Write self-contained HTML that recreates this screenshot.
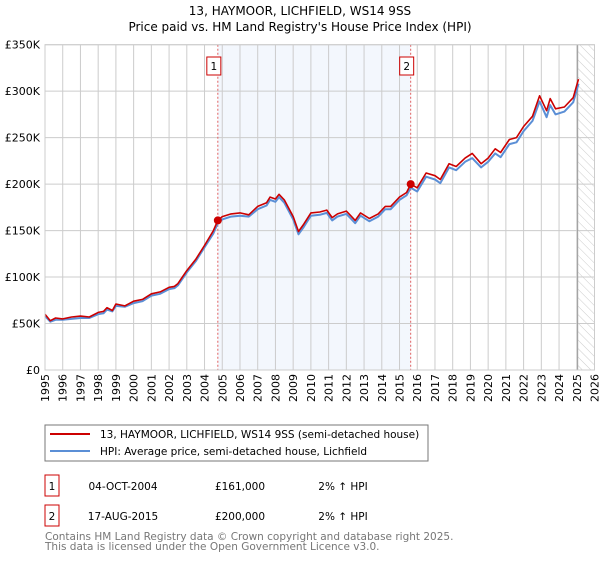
<!DOCTYPE html>
<html><head><meta charset="utf-8"><style>
body{margin:0;background:#fff;font-family:"DejaVu Sans","Liberation Sans",sans-serif;}
svg text{font-family:"DejaVu Sans","Liberation Sans",sans-serif;}
</style></head><body>
<svg id="c" width="600" height="560" xmlns="http://www.w3.org/2000/svg">
<defs><pattern id="hatch" width="6" height="6" patternUnits="userSpaceOnUse" patternTransform="rotate(-45)"><line x1="0" y1="0" x2="0" y2="6" stroke="#ccc" stroke-width="1"/></pattern></defs>
<text x="300" y="15" text-anchor="middle" font-size="12">13, HAYMOOR, LICHFIELD, WS14 9SS</text>
<text x="300" y="31" text-anchor="middle" font-size="12">Price paid vs. HM Land Registry's House Price Index (HPI)</text>
<g id="plot"></g>
<rect x="45" y="425" width="383" height="36" fill="#fff" stroke="#777"/>
<line x1="50" y1="434" x2="90" y2="434" stroke="#cc0000" stroke-width="2"/>
<text x="100" y="438" font-size="10.5">13, HAYMOOR, LICHFIELD, WS14 9SS (semi-detached house)</text>
<line x1="50" y1="451" x2="90" y2="451" stroke="#5b8fd6" stroke-width="2"/>
<text x="100" y="455" font-size="10.5">HPI: Average price, semi-detached house, Lichfield</text>
<rect x="45" y="475" width="14" height="21" fill="#fff" stroke="#cc0000"/>
<text x="52" y="490" font-size="10.5" text-anchor="middle">1</text>
<text x="123" y="490" font-size="10.5" text-anchor="middle">04-OCT-2004</text>
<text x="240" y="490" font-size="10.5" text-anchor="middle">£161,000</text>
<text x="343" y="490" font-size="10.5" text-anchor="middle">2% ↑ HPI</text>
<rect x="45" y="505" width="14" height="21" fill="#fff" stroke="#cc0000"/>
<text x="52" y="520" font-size="10.5" text-anchor="middle">2</text>
<text x="123" y="520" font-size="10.5" text-anchor="middle">17-AUG-2015</text>
<text x="240" y="520" font-size="10.5" text-anchor="middle">£200,000</text>
<text x="343" y="520" font-size="10.5" text-anchor="middle">2% ↑ HPI</text>
<text x="45" y="540" font-size="10.5" fill="#777">Contains HM Land Registry data © Crown copyright and database right 2025.</text>
<text x="45" y="550" font-size="10.5" fill="#777">This data is licensed under the Open Government Licence v3.0.</text>
</svg>
<script>
const years=[1995,1996,1997,1998,1999,2000,2001,2002,2003,2004,2005,2006,2007,2008,2009,2010,2011,2012,2013,2014,2015,2016,2017,2018,2019,2020,2021,2022,2023,2024,2025,2026];
const yTicks=[0,50000,100000,150000,200000,250000,300000,350000];
const yTickLabels=["£0","£50K","£100K","£150K","£200K","£250K","£300K","£350K"];
const dates=[1995.0,1995.3,1995.6,1996.0,1996.5,1997.0,1997.5,1998.0,1998.3,1998.5,1998.8,1999.0,1999.5,2000.0,2000.5,2001.0,2001.5,2002.0,2002.3,2002.5,2003.0,2003.5,2004.0,2004.5,2004.75,2005.0,2005.5,2006.0,2006.5,2007.0,2007.5,2007.7,2008.0,2008.2,2008.5,2009.0,2009.3,2009.6,2010.0,2010.5,2010.9,2011.2,2011.5,2012.0,2012.2,2012.5,2012.8,2013.3,2013.8,2014.2,2014.5,2015.0,2015.4,2015.63,2016.0,2016.5,2017.0,2017.3,2017.8,2018.2,2018.7,2019.1,2019.6,2020.0,2020.4,2020.7,2021.2,2021.6,2022.0,2022.5,2022.9,2023.3,2023.5,2023.8,2024.3,2024.8,2025.1];
const priceK=[60,53,56,55,57,58,57,62,63,67,64,71,69,74,76,82,84,89,90,93,107,119,134,150,161,165,168,169,167,176,180,186,184,189,183,165,149,157,169,170,172,164,168,171,167,161,169,163,168,176,176,186,191,200,196,212,209,205,222,219,228,233,222,228,238,234,248,250,262,273,295,279,292,281,283,293,313];
const hpiK=[58,52,54,54,55,56,56,60,61,65,63,69,68,72,74,80,82,87,88,91,105,117,132,147,158,162,165,166,165,173,177,183,181,186,180,162,146,154,166,167,169,161,165,168,164,158,166,160,165,173,173,183,188,196,192,208,205,201,218,215,224,228,218,224,233,229,243,245,257,268,289,272,285,275,278,288,308];
const sales=[{n:"1",t:2004.75,v:161000},{n:"2",t:2015.63,v:200000}];
const NS="http://www.w3.org/2000/svg",g=document.getElementById('plot');
const X0=45,X1=594.5,Y0=370,Y1=44.7;
const xs=t=>X0+(t-1995)/(2026-1995)*(X1-X0);
const ys=v=>Y0-v/350000*(Y0-Y1);
function mk(tag,a,p){const e=document.createElementNS(NS,tag);for(const k in a)e.setAttribute(k,a[k]);(p||g).appendChild(e);return e;}
let e=mk('rect',{x:xs(sales[0].t),y:Y1,width:xs(sales[1].t)-xs(sales[0].t),height:Y0-Y1,fill:'#eef3fc',opacity:0.7});


e=mk('rect',{x:xs(2025.05),y:Y1,width:X1-xs(2025.05),height:Y0-Y1,fill:'url(#hatch)'});


yTicks.forEach((v,i)=>{
 e=mk('line',{x1:X0,x2:X1,y1:ys(v),y2:ys(v),stroke:'#ccc','stroke-width':1});
 
 
 e=mk('text',{x:40,y:ys(v)+4,'text-anchor':'end','font-size':11});e.textContent=yTickLabels[i];
 
 
});
years.forEach(y=>{
 e=mk('line',{x1:xs(y),x2:xs(y),y1:Y1,y2:Y0,stroke:'#ccc','stroke-width':1});
 
 
 const x=xs(y)+4;
 e=mk('text',{x:x,y:374,'text-anchor':'end','font-size':11,transform:`rotate(-90 ${x} 374)`});e.textContent=y;
 
 
});
e=mk('line',{x1:xs(2025.05),x2:xs(2025.05),y1:Y1,y2:Y0,stroke:'#999','stroke-width':1});


sales.forEach(s=>{
 e=mk('line',{x1:xs(s.t),x2:xs(s.t),y1:Y1,y2:Y0,stroke:'#e06060','stroke-width':1,'stroke-dasharray':'2,2'});
 
 
 e=mk('rect',{x:xs(s.t)-11,y:57,width:14,height:18,fill:'#fff',stroke:'#cc0000'});
 
 
 e=mk('text',{x:xs(s.t)-4,y:70,'text-anchor':'middle','font-size':10.5});e.textContent=s.n;
});
const path=arr=>arr.map((v,i)=>(i?'L':'M')+xs(dates[i]).toFixed(1)+','+ys(v*1000).toFixed(1)).join('');
e=mk('path',{d:path(hpiK),fill:'none',stroke:'#5b8fd6','stroke-width':2,'stroke-linejoin':'round'});


e=mk('path',{d:path(priceK),fill:'none',stroke:'#cc0000','stroke-width':1.6,'stroke-linejoin':'round'});


sales.forEach(s=>{
 e=mk('circle',{cx:xs(s.t),cy:ys(s.v),r:4,fill:'#cc0000'});
 
 
});
e=mk('rect',{x:X0,y:Y1,width:X1-X0,height:Y0-Y1,fill:'none',stroke:'#ccc'});


</script>
</body></html>
